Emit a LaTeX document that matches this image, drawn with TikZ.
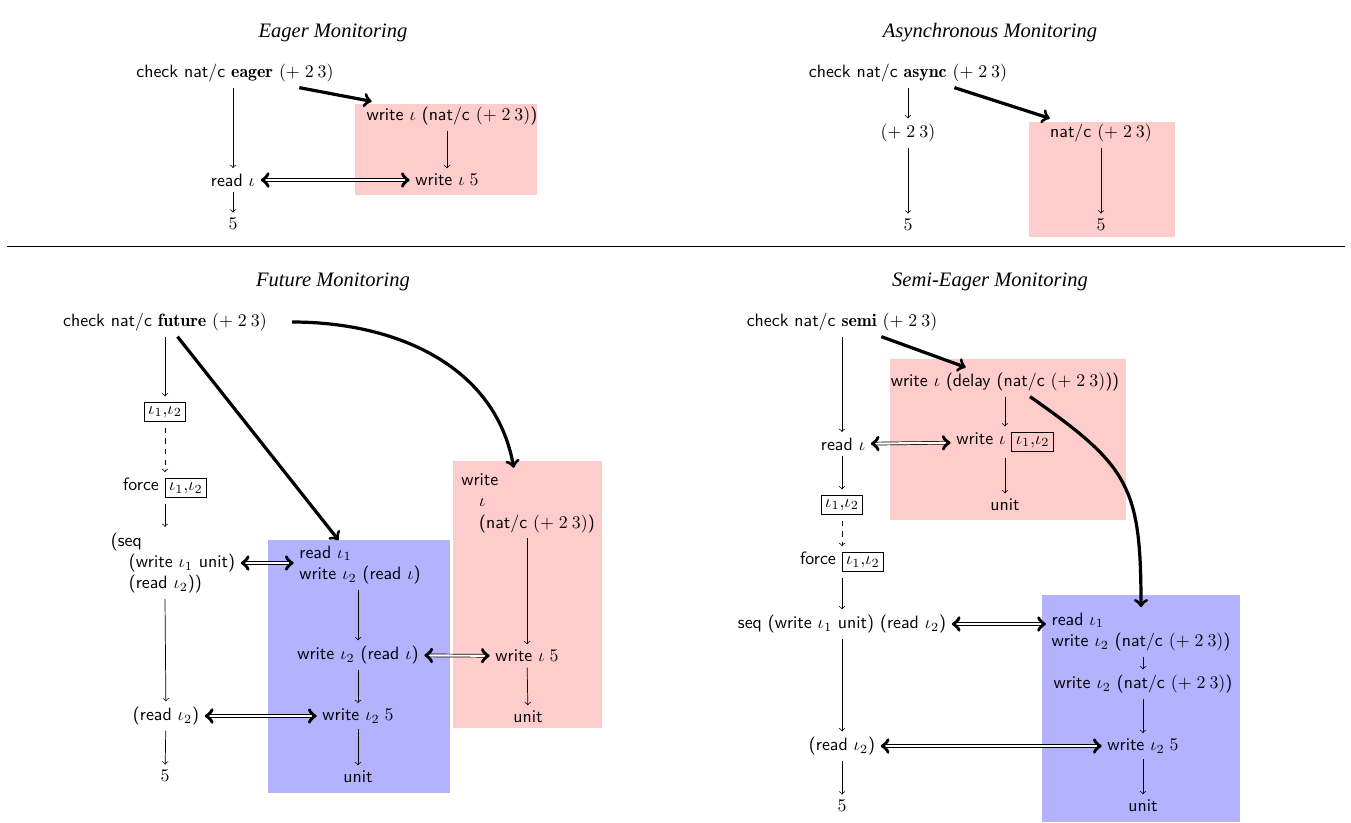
\documentclass[tikz,border=0pt]{standalone}
\usepackage{fontspec}
\usepackage{amssymb}
\usetikzlibrary{arrows,positioning}
\newfontfamily\ttlfont{Liberation Serif}
\newcommand{\kw}[1]{\textsf{#1}}
\newcommand{\locs}{{\setlength{\fboxsep}{2pt}\fbox{$\iota_1{,}\iota_2$}}}
\newcommand{\sumexp}{$(+\;2\:3)$}

\begin{document}
\begin{tikzpicture}[
        x=0.56pt, y=-0.56pt,
        every node/.style={font=\sffamily, inner sep=3pt},
        title/.style={font=\fontsize{11.5}{14}\selectfont\ttlfont\itshape},
        pinkbox/.style={fill=red!20},
        bluebox/.style={fill=blue!30},
        dbl/.style={double, double distance=1.2pt, <->},
        big/.style={->, line width=1.8pt}
    ]
    \useasboundingbox (0,0) rectangle (1351,822);

    % Backgrounds
    \fill[pinkbox] (355,104) rectangle (537,195);
    \fill[pinkbox] (1029,122) rectangle (1175,237);
    \fill[bluebox] (268,540) rectangle (450,793);
    \fill[pinkbox] (453,461) rectangle (602,728);
    \fill[pinkbox] (890,359) rectangle (1126,520);
    \fill[bluebox] (1042,595) rectangle (1240,822);
    \draw (7,246) -- (1345,246);

    % Eager
    \node[title] (tE) at (333,33) {Eager Monitoring};
    \node (chkE) at (235,73) {check nat/c $\mathbf{eager}$ \sumexp};
    \node (rdE) at (233,180) {read $\iota$};
    \node (vE) at (233,224) {$5$};
    \node (wE) at (452,116) {write $\iota$ (nat/c \sumexp)};
    \node (w5E) at (447,180) {write $\iota\;5$};

    \draw[->] (rdE |- chkE.south) -- (rdE);
    \draw[->] (rdE) -- (vE);
    \draw[->] (w5E |- wE.south) -- (w5E);
    \draw[dbl] (rdE) -- (w5E);
    \draw[big] ([xshift=36pt]chkE.south) -- ([xshift=6pt]wE.north west);

    % Asynchronous
    \node[title] (tA) at (990,33) {Asynchronous Monitoring};
    \node (chkA) at (908,73) {check nat/c $\mathbf{async}$ \sumexp};
    \node (pA) at (908,133) {\sumexp};
    \node (vA) at (908,225) {$5$};
    \node (nA) at (1101,133) {nat/c \sumexp};
    \node (v2A) at (1101,225) {$5$};

    \draw[->] (pA |- chkA.south) -- (pA);
    \draw[->] (pA) -- (vA);
    \draw[->] (nA) -- (v2A);
    \draw[big] ([xshift=26pt]chkA.south) -- ([xshift=3pt]nA.north west);

    % Future
    \node[title] (tF) at (333,282) {Future Monitoring};
    \node (chkF) at (165,322) {check nat/c $\mathbf{future}$ \sumexp};
    \node (lbF) at (165,412) {\locs};
    \node (fF) at (165,488) {force \locs};
    \node[align=left] (sqF) at (173,563) {(seq\\ \hspace{1em}(write $\iota_1$ unit)\\ \hspace{1em}(read $\iota_2$))};
    \node (rF) at (166,716) {(read $\iota_2$)};
    \node (vF) at (165,776) {$5$};
    \node[align=left] (rwF) at (360,565) {read $\iota_1$\\ write $\iota_2$ (read $\iota$)};
    \node (wrF) at (358,655) {write $\iota_2$ (read $\iota$)};
    \node (w5F) at (358,716) {write $\iota_2\;5$};
    \node (uF) at (358,777) {unit};
    \node[align=left] (wnF) at (528,503) {write\\ \hspace{1em}$\iota$\\ \hspace{1em}(nat/c \sumexp)};
    \node (wiF) at (527,656) {write $\iota\;5$};
    \node (u2F) at (528,717) {unit};

    \draw[->] (chkF) -- (lbF);
    \draw[->, dashed] (lbF) -- (fF);
    \draw[->] (fF) -- (fF |- sqF.north);
    \draw[->] (fF |- sqF.south) -- (rF);
    \draw[->] (rF) -- (vF);
    \draw[->] (wrF |- rwF.south) -- (wrF);
    \draw[->] (wrF) -- (w5F);
    \draw[->] (w5F) -- (uF);
    \draw[->] (wiF |- wnF.south) -- (wiF);
    \draw[->] (wiF) -- (u2F);
    \draw[dbl] (sqF.east) -- (sqF.east -| rwF.west);
    \draw[dbl] (rF) -- (w5F);
    \draw[dbl] (wrF) -- (wiF);
    \draw[big] ([xshift=7pt]chkF.south) -- ([xshift=-12pt]rwF.north);
    \draw[big] ([xshift=11pt]chkF.east) to[out=0, in=100] ([xshift=-8pt]wnF.north);

    % Semi-eager
    \node[title] (tS) at (990,282) {Semi-Eager Monitoring};
    \node (chkS) at (842,322) {check nat/c $\mathbf{semi}$ \sumexp};
    \node (rdS) at (843,444) {read $\iota$};
    \node (lbS) at (842,505) {\locs};
    \node (fS) at (842,562) {force \locs};
    \node (sqS) at (842,624) {seq (write $\iota_1$ unit) (read $\iota_2$)};
    \node (rS) at (842,746) {(read $\iota_2$)};
    \node (vS) at (842,806) {$5$};
    \node (wdS) at (1005,382) {write $\iota$ (delay (nat/c \sumexp))};
    \node (wlS) at (1005,442) {write $\iota$ \locs};
    \node (uS) at (1005,505) {unit};
    \node[align=left] (rsS) at (1141,632) {read $\iota_1$\\ write $\iota_2$ (nat/c \sumexp)};
    \node (wnS) at (1143,684) {write $\iota_2$ (nat/c \sumexp)};
    \node (w5S) at (1143,746) {write $\iota_2\;5$};
    \node (u2S) at (1143,806) {unit};

    \draw[->] (chkS) -- (chkS |- rdS.north);
    \draw[->] (rdS.south -| chkS) -- (lbS);
    \draw[->, dashed] (lbS) -- (fS);
    \draw[->] (fS) -- (sqS);
    \draw[->] (sqS) -- (rS);
    \draw[->] (rS) -- (vS);
    \draw[->] (wdS.south -| wlS) -- (wlS);
    \draw[->] (wlS) -- (uS);
    \draw[->] (wnS |- rsS.south) -- (wnS);
    \draw[->] (wnS) -- (w5S);
    \draw[->] (w5S) -- (u2S);
    \draw[dbl] (rdS) -- (wlS);
    \draw[dbl] (sqS.east) -- (sqS.east -| rsS.west);
    \draw[dbl] (rS) -- (w5S);
    \draw[big] ([xshift=22pt]chkS.south) -- ([xshift=-22pt]wdS.north);
    \draw[big] ([xshift=14pt]wdS.south) to[out=-35, in=90, looseness=1.3] (rsS.north);

\end{tikzpicture}
\end{document}
